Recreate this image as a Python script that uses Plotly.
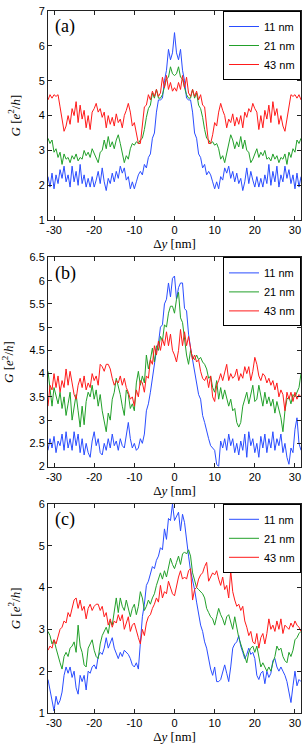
import plotly.graph_objects as go

# x grid: Delta y in nm, -31.5 ... 31.5 in 0.5 nm steps
dy_nm = [i / 2 for i in range(-63, 64)]

series_names = ["11 nm", "21 nm", "43 nm"]
x_tickvals = [-30, -20, -10, 0, 10, 20, 30]
x_ticktext = ["-30", "-20", "-10", "0", "10", "20", "30"]

# ---------------- panel (a) ----------------
a_11 = [2.25, 1.95, 2.35, 1.9, 2.3, 2.05, 2.45, 2.2, 2.55, 2.1,
        2.3, 1.95, 2.55, 2.1, 2.4, 2.0, 2.6, 2.05, 2.3, 1.95,
        2.2, 1.95, 2.25, 1.95, 2.15, 2.4, 2.05, 2.5, 2.1, 1.85,
        2.2, 2.05, 2.35, 2.1, 2.4, 2.2, 2.55, 2.35, 2.5, 2.15,
        2.25, 1.9, 2.1, 1.9, 2.1, 2.3, 2.4, 2.3, 2.6, 2.5,
        2.8, 2.9, 3.35, 3.5, 4.1, 4.45, 4.45, 4.5, 5.0, 5.3,
        5.9, 5.6, 5.8, 6.38,
        5.8, 5.6, 5.9,
        5.3, 5.0, 4.5, 4.45, 4.45, 4.1, 3.5, 3.35, 2.9, 2.8,
        2.5, 2.6, 2.3, 2.4, 2.3, 2.1, 1.9, 2.1, 1.9, 2.25,
        2.15, 2.5, 2.35, 2.55, 2.2, 2.4, 2.1, 2.35, 2.05, 2.2,
        1.85, 2.1, 2.5, 2.05, 2.4, 2.15, 1.95, 2.25, 1.95, 2.2,
        1.95, 2.3, 2.05, 2.6, 2.0, 2.4, 2.1, 2.55, 1.95, 2.3,
        2.1, 2.55, 2.2, 2.45, 2.05, 2.3, 1.9, 2.35, 1.95, 2.25]
a_21 = [3.35, 3.2, 3.3, 2.95, 3.05, 2.8, 2.95, 2.6, 2.9, 2.75,
        2.8, 2.65, 2.85, 2.75, 2.9, 2.7, 2.8, 2.75, 3.0, 2.85,
        2.95, 2.8, 3.05, 2.9, 2.75, 2.65, 2.95, 3.0, 3.3, 3.05,
        3.4, 3.1, 3.25, 3.05, 3.3, 3.45, 3.2, 2.9, 2.65, 2.85,
        2.75, 3.05, 3.2, 3.15, 3.25, 3.2, 3.3, 3.35, 3.6, 3.95,
        4.2, 4.3, 4.65, 4.5, 4.75, 4.5, 4.5, 4.6, 4.8, 5.05,
        5.1, 5.4, 5.2, 5.15,
        5.2, 5.4, 5.1,
        5.05, 4.8, 4.6, 4.5, 4.5, 4.75, 4.5, 4.65, 4.3, 4.2,
        3.95, 3.6, 3.35, 3.3, 3.2, 3.25, 3.15, 3.2, 3.05, 2.75,
        2.85, 2.65, 2.9, 3.2, 3.45, 3.3, 3.05, 3.25, 3.1, 3.4,
        3.05, 3.3, 3.0, 2.95, 2.65, 2.75, 2.9, 3.05, 2.8, 2.95,
        2.85, 3.0, 2.75, 2.8, 2.7, 2.9, 2.75, 2.85, 2.65, 2.8,
        2.75, 2.9, 2.6, 2.95, 2.8, 3.05, 2.95, 3.3, 3.2, 3.35]
a_43 = [4.45, 4.6, 4.5, 4.6, 4.55, 4.6, 4.25, 3.9, 3.55, 3.7,
        4.0, 3.75, 4.2, 4.0, 4.4, 3.8, 4.3, 3.9, 4.15, 3.65,
        4.0, 3.6, 4.1, 4.2, 4.35, 4.1, 4.2, 3.95, 4.1, 3.65,
        4.0, 3.75, 3.95, 3.7, 4.05, 3.8, 3.9, 3.65, 4.0, 4.15,
        4.35, 4.1, 3.7, 3.8, 3.45, 3.2, 3.2, 3.7, 4.25, 4.3,
        4.6, 4.45, 4.7, 4.55, 4.75, 4.55, 4.65, 5.1, 4.8, 5.15,
        4.75, 4.95, 4.7, 4.8,
        4.7, 4.95, 4.75,
        5.15, 4.8, 5.1, 4.65, 4.55, 4.75, 4.55, 4.7, 4.45, 4.6,
        4.3, 4.25, 3.7, 3.2, 3.2, 3.45, 3.8, 3.7, 4.1, 4.35,
        4.15, 4.0, 3.65, 3.9, 3.8, 4.05, 3.7, 3.95, 3.75, 4.0,
        3.65, 4.1, 3.95, 4.2, 4.1, 4.35, 4.2, 4.1, 3.6, 4.0,
        3.65, 4.15, 3.9, 4.3, 3.8, 4.4, 4.0, 4.2, 3.75, 4.0,
        3.7, 3.55, 3.9, 4.25, 4.6, 4.55, 4.6, 4.5, 4.6, 4.45]

# ---------------- panel (b) ----------------
b_11 = [2.35, 2.6, 2.4, 2.65, 2.3, 2.55, 2.45, 2.7, 2.35, 2.75,
        2.4, 2.6, 2.35, 2.75, 2.45, 2.7, 2.3, 2.6, 2.25, 2.5,
        2.3, 2.2, 2.55, 2.75, 2.45, 2.6, 2.3, 2.25, 2.5, 2.35,
        2.6, 2.4, 2.7, 2.45, 2.55, 2.35, 2.6, 2.45, 2.4, 2.7,
        2.95, 2.6, 2.4, 2.5, 2.35, 2.4, 2.6, 2.5, 2.7, 3.2,
        3.35, 3.6, 3.9, 4.25, 4.5, 4.65, 5.0, 5.05, 5.5, 5.6,
        5.95, 5.65, 6.05, 6.1, 5.6, 5.85, 5.95, 5.95, 5.4, 5.35,
        4.85, 4.55, 4.3, 4.0, 3.75, 3.55, 3.45, 3.1, 2.95, 2.75,
        2.6, 2.45, 2.4, 2.35, 2.05, 2.0, 2.55, 2.4, 2.6, 2.35,
        2.7, 2.45, 2.6, 2.3, 2.5, 2.25, 2.55, 2.35, 2.7, 2.2,
        2.75, 2.45, 2.6, 2.3, 2.5, 2.2, 2.65, 2.4, 2.7, 2.3,
        2.6, 2.4, 2.75, 2.35, 2.6, 2.45, 2.7, 2.3, 2.5, 2.2,
        2.05, 2.4, 2.3, 2.8, 3.05, 2.5, 2.35]
b_21 = [4.05, 3.6, 3.3, 3.7, 3.5, 3.35, 3.6, 3.25, 3.5, 3.1,
        3.35, 3.6, 3.0, 3.3, 3.55, 3.2, 2.85, 3.3, 2.9, 3.4,
        3.6, 3.5, 3.75, 3.45, 3.65, 3.3, 3.55, 3.2, 3.0, 2.75,
        3.15, 3.0, 3.45, 3.6, 3.9, 3.75, 3.55, 3.3, 3.1, 3.65,
        3.55, 3.25, 3.35, 3.2, 3.8, 4.05, 3.75, 3.95, 3.8, 4.4,
        4.1, 4.3, 4.55, 4.25, 4.6, 4.5, 4.8, 4.7, 5.05, 5.0,
        5.3, 5.45, 5.45, 5.3, 5.6, 5.75, 5.2, 5.1, 4.7, 4.4,
        4.2, 4.5, 4.35, 4.3, 4.4, 4.3, 4.35, 4.25, 4.2, 4.1,
        3.9, 3.95, 3.7, 3.6, 3.85, 3.45, 3.7, 3.45, 3.65, 3.5,
        3.3, 3.45, 3.2, 3.25, 2.95, 2.85, 2.95, 3.3, 3.45, 3.6,
        3.35, 3.55, 3.75, 3.4, 3.45, 3.75, 3.55, 3.3, 3.6, 3.35,
        3.5, 3.3, 3.45, 3.15, 3.4, 3.25, 3.05, 2.75, 3.2, 3.45,
        3.5, 3.35, 3.55, 3.5, 3.6, 3.7, 4.0]
b_43 = [3.3, 3.75, 3.65, 4.0, 3.7, 3.95, 3.6, 3.85, 3.7, 4.1,
        3.75, 4.05, 3.8, 3.55, 3.45, 3.75, 3.9, 3.7, 3.95, 3.65,
        3.8, 3.7, 4.0, 3.85, 3.95, 3.75, 4.2, 4.15, 4.05, 4.2,
        4.2, 4.1, 3.9, 3.75, 3.85, 3.8, 3.95, 3.75, 3.9, 3.7,
        3.6, 3.45, 3.5, 3.3, 3.65, 3.5, 3.85, 3.8, 3.6, 3.95,
        3.9, 4.3, 4.2, 4.6, 4.4, 4.7, 4.5, 4.75, 4.6, 4.9,
        4.6, 4.85, 4.5, 4.4, 4.25, 4.5, 4.95, 4.6, 4.9, 4.6,
        4.8, 4.55, 4.3, 4.4, 4.25, 4.3, 4.05, 3.9, 3.85, 3.95,
        3.7, 3.95, 3.5, 3.4, 3.75, 3.85, 4.0, 3.85, 4.05, 4.2,
        3.85, 4.0, 3.9, 3.95, 4.1, 3.85, 4.0, 3.9, 4.15, 4.0,
        4.15, 3.85, 4.05, 4.35, 4.2, 3.95, 3.85, 4.0, 3.95, 3.8,
        3.9, 3.75, 3.85, 3.65, 3.8, 3.5, 3.65, 3.55, 3.2, 3.6,
        3.45, 3.6, 3.4, 3.6, 3.45, 3.55, 3.5]

# ---------------- panel (c) ----------------
c_11 = [1.8, 1.55, 1.35, 1.05, 1.4, 1.2, 1.3, 1.5, 1.9, 2.1,
        1.95, 2.1, 1.85, 2.0, 1.6, 1.45, 1.9, 1.75, 1.9, 1.55,
        2.0, 1.95, 2.1, 2.15, 2.05, 2.35, 2.45, 2.4, 2.55, 2.8,
        2.55, 2.7, 2.8, 2.55, 2.4, 2.3, 2.45, 2.35, 2.5, 2.45,
        2.4, 2.3, 2.15, 2.1, 2.2, 2.05, 2.6, 3.3, 3.6, 4.05,
        4.15, 4.3, 4.5, 4.45, 4.65, 4.75, 4.95, 4.9, 5.4, 5.15,
        5.65, 5.6, 6.0, 5.6, 5.7, 5.8, 5.35, 5.75, 5.55, 5.1,
        4.75, 4.4, 4.2, 3.95, 3.65, 3.35, 3.1, 2.95, 2.7, 2.55,
        2.25, 2.05, 1.9, 2.1, 1.75, 1.75, 1.8, 2.0, 2.15, 1.95,
        1.75, 2.1, 2.55, 2.65, 2.7, 2.85, 2.6, 2.45, 2.3, 2.4,
        2.55, 2.4, 2.45, 2.3, 1.9, 1.8, 1.95, 2.0, 1.7, 2.0,
        1.85, 1.95, 2.25, 2.3, 2.1, 2.0, 2.1, 2.0, 1.9, 1.75,
        1.5, 1.25, 1.65, 2.0, 1.65, 1.8, 1.75]
c_21 = [2.95, 2.85, 2.65, 2.75, 2.55, 2.35, 2.2, 2.05, 2.35, 2.45,
        2.35, 2.55, 2.6, 2.7, 2.45, 3.1, 2.6, 2.45, 2.15, 2.1,
        2.55, 2.65, 2.75, 2.5, 2.35, 2.3, 2.65, 2.85, 2.95, 3.05,
        2.9, 3.2, 3.1, 3.45, 3.75, 3.4, 3.75, 3.55, 3.45, 3.7,
        3.5, 3.3, 3.5, 3.6, 3.35, 3.55, 3.9, 3.75, 3.45, 3.55,
        3.7, 3.6, 3.75, 3.85, 4.05, 4.2, 4.35, 4.2, 4.4, 4.25,
        4.45, 4.7, 4.55, 4.45, 4.6, 4.75, 4.55, 4.8, 4.85, 4.8,
        4.9, 4.75, 4.35, 4.15, 4.0, 3.95, 3.9, 3.85, 3.75, 3.5,
        3.4, 3.3, 3.25, 3.1, 3.3, 3.5, 3.35, 3.25, 3.1, 3.3,
        3.35, 3.15, 3.0, 3.3, 3.0, 2.8, 2.65, 2.5, 2.3, 2.2,
        2.45, 2.55, 2.6, 2.45, 2.6, 2.3, 2.1, 2.2, 2.1, 2.0,
        2.1, 2.0, 2.2, 2.35, 2.6, 2.5, 2.55, 2.35, 2.25, 2.2,
        2.45, 2.35, 2.5, 2.75, 2.8, 2.9, 2.95]
c_43 = [2.5, 2.6, 2.55, 2.75, 2.65, 2.85, 3.0, 3.05, 3.2, 3.15,
        3.4, 3.3, 3.5, 3.7, 3.75, 3.5, 3.7, 3.45, 3.55, 3.25,
        3.5, 3.6, 3.45, 3.55, 3.6, 3.6, 3.45, 3.55, 3.3, 3.4,
        3.1, 3.25, 3.05, 3.2, 3.15, 3.35, 3.2, 3.35, 3.0, 3.15,
        3.3, 2.95, 3.1, 3.15, 2.95, 2.8, 2.65, 3.0, 2.85, 3.15,
        3.3, 3.35, 3.5, 3.6, 3.75, 3.65, 4.05, 3.75, 3.9, 3.85,
        4.15, 4.0, 3.85, 3.8, 4.05, 4.25, 4.4, 4.2, 4.25, 4.2,
        4.4, 4.45, 3.7, 3.95, 4.0, 4.2, 4.3, 4.35, 4.5, 4.6,
        4.15, 4.25, 4.35, 4.3, 4.4, 4.2, 4.05, 4.25, 3.95, 4.05,
        3.75, 4.4, 3.9, 3.7, 3.55, 3.6, 3.45, 3.55, 3.2, 3.05,
        2.85, 2.95, 2.7, 2.65, 2.9, 2.55, 2.8, 2.9, 2.65, 2.9,
        3.25, 3.0, 3.1, 2.95, 3.2, 3.0, 3.25, 2.9, 3.1, 3.05,
        3.0, 3.15, 3.05, 3.2, 3.1, 3.05, 2.95]

for arr in (a_11, a_21, a_43, b_11, b_21, b_43, c_11, c_21, c_43):
    assert len(arr) == len(dy_nm), len(arr)

colors = ["#2a4dff", "#22a02a", "#ff1a1a"]
panels = [
    ("(a)", [a_11, a_21, a_43], "y", "legend", [1, 7], [1, 2, 3, 4, 5, 6, 7]),
    ("(b)", [b_11, b_21, b_43], "y2", "legend2", [2, 6.5],
     [2, 2.5, 3, 3.5, 4, 4.5, 5, 5.5, 6, 6.5]),
    ("(c)", [c_11, c_21, c_43], "y3", "legend3", [1, 6], [1, 2, 3, 4, 5, 6]),
]
xaxes = ["x", "x2", "x3"]
domains = [[0.702, 1.0], [0.351, 0.649], [0.0, 0.298]]

fig = go.Figure()
for k, (lab, ser, yref, leg, yr, yt) in enumerate(panels):
    for name, vals, col in zip(series_names, ser, colors):
        fig.add_trace(go.Scatter(
            x=dy_nm, y=vals, mode="lines", name=name,
            line=dict(color=col, width=1),
            xaxis=xaxes[k], yaxis=yref, legend=leg,
        ))

tickfont = dict(family="Liberation Sans, Arial, sans-serif", size=11, color="black")
titlefont = dict(family="Liberation Serif, DejaVu Serif, serif", size=13, color="black")

layout = dict(
    width=307, height=745,
    margin=dict(l=35, r=5, t=9, b=29),
    plot_bgcolor="white", paper_bgcolor="white",
    showlegend=True,
)
axis_common = dict(
    showline=True, linecolor="#222222", linewidth=1, mirror="ticks",
    ticks="inside", ticklen=4, tickwidth=1, tickcolor="#222222",
    showgrid=False, zeroline=False, tickfont=tickfont,
)
for k, (lab, ser, yref, leg, yr, yt) in enumerate(panels):
    xname = "xaxis" if k == 0 else f"xaxis{k+1}"
    yname = "yaxis" if k == 0 else f"yaxis{k+1}"
    layout[xname] = dict(
        axis_common, domain=[0, 1], range=[-31.5, 31.5],
        tickvals=x_tickvals, ticktext=x_ticktext,
        anchor=yref,
        title=dict(text="Δ<i>y</i> [nm]", font=titlefont, standoff=2),
    )
    layout[yname] = dict(
        axis_common, domain=domains[k], range=yr,
        tickvals=yt, anchor=xaxes[k],
        title=dict(text="<i>G</i> [<i>e</i><sup>2</sup>/<i>h</i>]", font=titlefont),
    )
    layout[leg] = dict(
        x=1, xanchor="right", y=domains[k][1], yanchor="top",
        bgcolor="white", bordercolor="black", borderwidth=1,
        font=dict(family="Liberation Sans, Arial, sans-serif", size=11, color="black"),
        itemwidth=30, tracegroupgap=0,
    )
fig.update_layout(**layout)

for k, (lab, ser, yref, leg, yr, yt) in enumerate(panels):
    fig.add_annotation(
        text=lab, xref=f"{xaxes[k]} domain", yref=f"{yref} domain",
        x=0.02, y=0.985, xanchor="left", yanchor="top", showarrow=False,
        font=dict(family="Liberation Serif, DejaVu Serif, serif", size=18, color="black"),
    )

fig.write_html(
    "out.html",
    config={"displayModeBar": False},
    post_script="document.body.style.margin='0';document.body.style.overflow='hidden';",
)
